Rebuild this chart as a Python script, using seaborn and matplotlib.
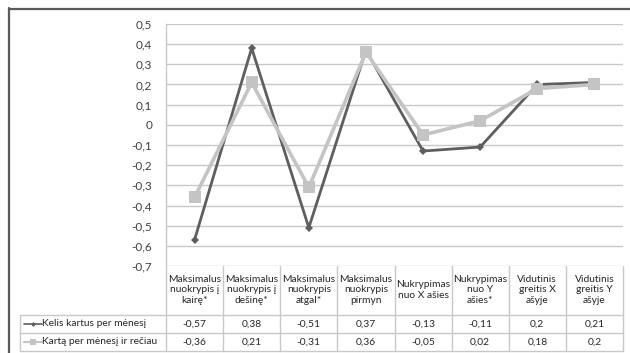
import matplotlib
matplotlib.use("Agg")
import matplotlib.pyplot as plt
import matplotlib.transforms as mtransforms
from matplotlib.lines import Line2D
import seaborn as sns
import pandas as pd

categories = [
    "Maksimalus\nnuokrypis į\nkairę*",
    "Maksimalus\nnuokrypis į\ndešinę*",
    "Maksimalus\nnuokrypis\natgal*",
    "Maksimalus\nnuokrypis\npirmyn",
    "Nukrypimas\nnuo X ašies",
    "Nukrypimas\nnuo Y\našies*",
    "Vidutinis\ngreitis X\našyje",
    "Vidutinis\ngreitis Y\našyje",
]
series_names = ["Kelis kartus per mėnesį", "Kartą per mėnesį ir rečiau"]
kelis = [-0.57, 0.38, -0.51, 0.37, -0.13, -0.11, 0.2, 0.21]
karta = [-0.36, 0.21, -0.31, 0.36, -0.05, 0.02, 0.18, 0.2]
yticks = [0.5, 0.4, 0.3, 0.2, 0.1, 0, -0.1, -0.2, -0.3, -0.4, -0.5, -0.6, -0.7]

sns.set_style("white")
plt.rcParams["font.family"] = ["Lato", "DejaVu Sans"]

W, H = 630, 353
fig = plt.figure(figsize=(W / 100, H / 100), dpi=100)
L, R, T, B = 166, 623, 24, 266
ax = fig.add_axes([L / W, 1 - B / H, (R - L) / W, (B - T) / H])

df = pd.DataFrame({
    "pos": list(range(len(categories))) * 2,
    "value": kelis + karta,
    "series": [series_names[0]] * len(kelis) + [series_names[1]] * len(karta),
})
colors = {series_names[0]: "#5e5e5e", series_names[1]: "#c4c4c4"}
markers = {series_names[0]: "D", series_names[1]: "s"}
sizes = {series_names[0]: 4.5, series_names[1]: 8}
lws = {series_names[0]: 2.0, series_names[1]: 2.6}
for name in series_names:
    sub = df[df["series"] == name]
    sns.lineplot(data=sub, x="pos", y="value", ax=ax, color=colors[name],
                 marker=markers[name], markersize=sizes[name], linewidth=lws[name],
                 markeredgewidth=0, legend=False, zorder=3 if name == series_names[0] else 4)

ax.set_xlim(-0.5, len(categories) - 0.5)
ax.set_ylim(-0.7, 0.5)
ax.set_yticks(yticks)
ax.set_yticklabels([("%g" % v).replace(".", ",") for v in yticks], fontsize=8.5, color="#404040")
ax.set_xticks([])
ax.set_xlabel("")
ax.set_ylabel("")
ax.tick_params(axis="y", length=0, pad=10)
ax.grid(axis="y", color="#c8c8c8", linewidth=1)
for s in ["top", "right", "bottom"]:
    ax.spines[s].set_visible(False)
ax.spines["left"].set_color("#c8c8c8")
ax.spines["left"].set_linewidth(1)

# pixel-from-top transform for y, data for x
pxy = mtransforms.Affine2D().scale(1, -1).translate(0, H)
tr = mtransforms.blended_transform_factory(ax.transData, pxy)
trp = pxy  # full pixel

grid_c = "#c8c8c8"
n = len(categories)
for i in range(n + 1):
    fig.add_artist(Line2D([i - 0.5, i - 0.5], [B, 351], transform=tr, color=grid_c, lw=1))
for yy in [315, 333, 351]:
    fig.add_artist(Line2D([20, R], [yy, yy], transform=trp, color=grid_c, lw=1))
fig.add_artist(Line2D([20, 20], [315, 351], transform=trp, color=grid_c, lw=1))

fs = 7.4
for i, c in enumerate(categories):
    fig.text(i, 290, c, transform=tr, ha="center", va="center", fontsize=fs,
             color="#262626", linespacing=1.25)

rows = [(series_names[0], kelis, 324), (series_names[1], karta, 342)]
for name, vals, yc in rows:
    for i, v in enumerate(vals):
        fig.text(i, yc, ("%g" % v).replace(".", ","), transform=tr, ha="center",
                 va="center", fontsize=fs, color="#262626")
    fig.add_artist(Line2D([24, 42], [yc, yc], transform=trp, color=colors[name],
                          lw=lws[name] * 0.6))
    fig.add_artist(Line2D([33], [yc], transform=trp, color=colors[name],
                          marker=markers[name], markersize=sizes[name] * 0.55, lw=0,
                          markeredgewidth=0))
    fig.text(42, yc, name, transform=trp, ha="left", va="center", fontsize=fs,
             color="#262626")

fig.add_artist(Line2D([9, W], [8.5, 8.5], transform=trp, color="#5a5a5a", lw=1.6))
fig.add_artist(Line2D([9, 9], [8, H], transform=trp, color="#5a5a5a", lw=1.6))

fig.savefig("out.png", dpi=100)
